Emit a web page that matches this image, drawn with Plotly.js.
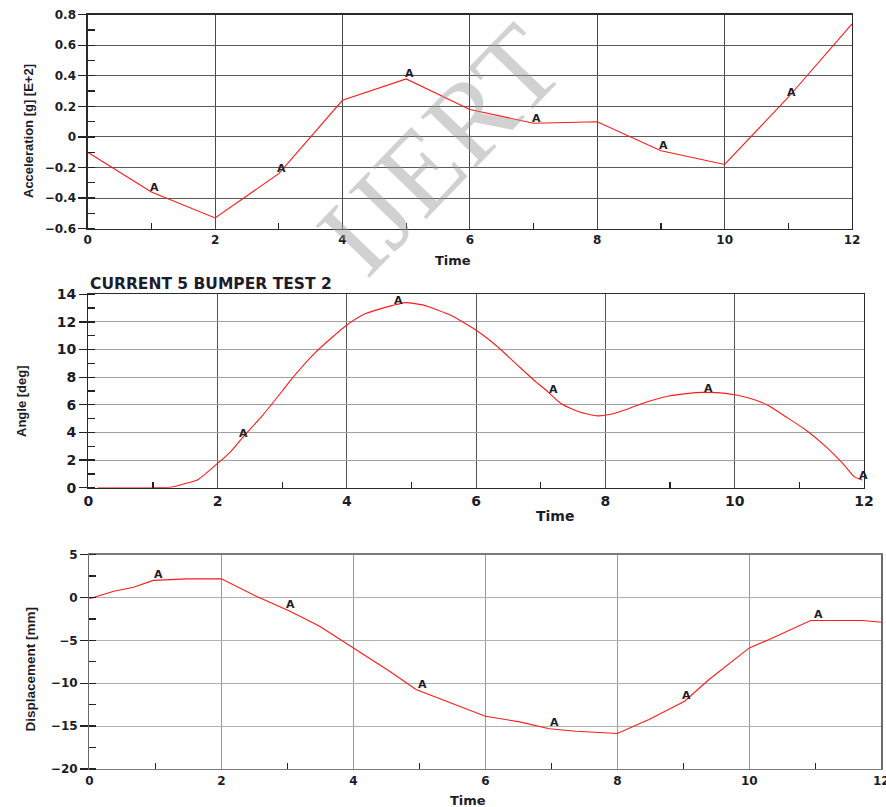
<!DOCTYPE html>
<html>
<head>
<meta charset="utf-8">
<script src="https://cdn.plot.ly/plotly-3.0.1.min.js"></script>
<style>html,body{margin:0;padding:0;background:#fff;}#chart{width:886px;height:807px;}</style>
</head>
<body>
<div id="chart"></div>
<script>
// ---------- data ----------
const accTime = [0, 1, 2, 3, 4, 5, 6, 7, 8, 9, 10, 11, 12];
const accel = [-0.10, -0.36, -0.53, -0.24, 0.24, 0.38, 0.18, 0.09, 0.10, -0.09, -0.18, 0.26, 0.74];
const accMarkX = [1, 3, 5, 7, 9, 11];
const accMarkY = [-0.36, -0.24, 0.38, 0.09, -0.09, 0.26];

const angTime = [0.15, 1.0, 1.3, 1.5, 1.7, 2.0, 2.2, 2.4, 2.7, 3.0, 3.15, 3.5, 3.8, 4.0, 4.3, 4.7, 4.9, 5.2, 5.38, 5.6, 6.0, 6.3, 6.61, 6.92, 7.08, 7.31, 7.59, 7.88, 8.06, 8.37, 8.57, 8.98, 9.29, 9.5, 9.86, 10.22, 10.5, 10.79, 11.1, 11.41, 11.67, 11.85, 11.97];
const angle = [0, 0, 0.05, 0.3, 0.6, 1.76, 2.6, 3.7, 5.26, 7.0, 7.9, 9.73, 11.0, 11.78, 12.62, 13.18, 13.4, 13.2, 12.9, 12.5, 11.4, 10.33, 9.0, 7.68, 7.07, 6.1, 5.5, 5.2, 5.3, 5.74, 6.1, 6.64, 6.83, 6.9, 6.83, 6.5, 6.0, 5.14, 4.18, 2.97, 1.76, 0.8, 0.55];
const angMarkX = [2.35, 4.75, 7.15, 9.55, 11.95];
const angMarkY = [3.6, 13.25, 6.8, 6.9, 0.6];

const dispTime = [0, 0.37, 0.67, 0.97, 1.48, 2.0, 2.53, 3.04, 3.49, 4.0, 4.55, 4.95, 5.25, 5.56, 6.0, 6.52, 6.97, 7.37, 8.0, 8.48, 9.02, 9.39, 10.0, 10.3, 10.93, 11.72, 12.0];
const disp = [-0.15, 0.74, 1.2, 2.0, 2.18, 2.18, 0.15, -1.6, -3.35, -5.87, -8.6, -10.73, -11.6, -12.5, -13.84, -14.5, -15.3, -15.6, -15.86, -14.23, -12.1, -9.56, -5.87, -4.9, -2.68, -2.68, -2.88];
const dispMarkX = [1, 3, 5, 7, 9, 11];
const dispMarkY = [2.0, -1.5, -10.9, -15.3, -12.1, -2.68];

const chartTitle = 'CURRENT 5 BUMPER TEST 2';
const yTitles = ['Acceleration [g] [E+2]', 'Angle [deg]', 'Displacement [mm]'];
const xTitle = 'Time';
const watermark = 'IJERT';

// ---------- layout helpers ----------
const W = 886, H = 807;
const px = v => v / W;
const py = v => 1 - v / H;
const lineColor = '#ff1a1a';
const textDark = '#1c1c2a';
const bold = {family: 'DejaVu Sans', weight: 'bold', color: textDark};

const traces = [
  {x: accTime, y: accel, xaxis: 'x', yaxis: 'y', mode: 'lines', line: {color: lineColor, width: 1.1}, hoverinfo: 'skip'},
  {x: angTime, y: angle, xaxis: 'x2', yaxis: 'y2', mode: 'lines', line: {color: lineColor, width: 1.1, shape: 'spline', smoothing: 0.6}, hoverinfo: 'skip'},
  {x: dispTime, y: disp, xaxis: 'x3', yaxis: 'y3', mode: 'lines', line: {color: lineColor, width: 1.1}, hoverinfo: 'skip'}
];

function xAx(dom, anchor, gridcolor, linecolor, fsize) {
  return {
    domain: dom, anchor: anchor, range: [0, 12], dtick: 2, tick0: 0,
    showgrid: true, gridcolor: gridcolor, gridwidth: 1, zeroline: false,
    showline: true, linecolor: linecolor, linewidth: 1.3, mirror: true,
    ticks: '', tickfont: Object.assign({size: fsize}, bold),
    ticklabeloverflow: 'allow',
    minor: {dtick: 1, tick0: 0, ticks: 'inside', ticklen: 6, tickcolor: '#222', tickwidth: 1.3, showgrid: false},
    fixedrange: true
  };
}
function yAx(dom, anchor, range, dtick, mdtick, gridcolor, linecolor, fsize) {
  return {
    domain: dom, anchor: anchor, range: range, dtick: dtick, tick0: range[0],
    showgrid: true, gridcolor: gridcolor, gridwidth: 1, zeroline: false,
    showline: true, linecolor: linecolor, linewidth: 1.3, mirror: true,
    ticks: 'outside', ticklen: 8, tickcolor: '#222', tickwidth: 1.3,
    tickfont: Object.assign({size: fsize}, bold),
    minor: {dtick: mdtick, tick0: range[0], ticks: 'inside', ticklen: 7, tickcolor: '#222', tickwidth: 1.3, showgrid: false},
    fixedrange: true
  };
}

const annotations = [];
function addMarks(xs, ys, xref, yref, yshift) {
  xs.forEach((xv, i) => annotations.push({
    x: xv, y: ys[i], xref: xref, yref: yref, text: 'A', showarrow: false,
    xshift: 3, yshift: yshift, font: {family: 'DejaVu Sans', size: 11, weight: 'bold', color: textDark}
  }));
}
addMarks(accMarkX, accMarkY, 'x', 'y', 5);
addMarks(angMarkX, angMarkY, 'x2', 'y2', 4);
addMarks(dispMarkX, dispMarkY, 'x3', 'y3', 6);

function paperText(text, x, y, size, angleDeg, family) {
  annotations.push({
    text: text, xref: 'paper', yref: 'paper', x: px(x), y: py(y),
    xanchor: 'center', yanchor: 'middle', showarrow: false, textangle: angleDeg || 0,
    font: {family: family || 'Liberation Sans', size: size, weight: 'bold', color: textDark}
  });
}
paperText(yTitles[0], 28, 131, 13, -90);
paperText(yTitles[1], 21, 401, 13, -90);
paperText(yTitles[2], 29.5, 669, 13.5, -90);
paperText(xTitle, 453, 260, 13, 0, 'DejaVu Sans');
paperText(xTitle, 555, 516, 14, 0, 'DejaVu Sans');
paperText(xTitle, 468, 800, 13, 0, 'DejaVu Sans');

annotations.push({
  text: chartTitle, xref: 'paper', yref: 'paper', x: px(88), y: py(295),
  xanchor: 'left', yanchor: 'bottom', showarrow: false,
  font: {family: 'DejaVu Sans', size: 15.5, weight: 'bold', color: textDark}
});

annotations.push({
  text: watermark, xref: 'paper', yref: 'paper', x: px(440), y: py(150),
  xanchor: 'center', yanchor: 'middle', showarrow: false, textangle: -46,
  opacity: 0.45,
  font: {family: 'Liberation Serif', size: 114, color: '#9a9a9a'}
});

const layout = {
  width: W, height: H,
  margin: {l: 0, r: 0, t: 0, b: 0},
  paper_bgcolor: '#ffffff', plot_bgcolor: '#ffffff',
  showlegend: false,
  xaxis: xAx([px(87.7), px(852)], 'y', '#4a4a4a', '#2a2a2a', 12),
  yaxis: yAx([py(228.7), py(14.7)], 'x', [-0.6, 0.8], 0.2, 0.1, '#5a5a5a', '#2a2a2a', 12),
  xaxis2: xAx([px(88.3), px(864)], 'y2', '#555555', '#2a2a2a', 14),
  yaxis2: yAx([py(487.7), py(294.3)], 'x2', [0, 14], 2, 1, '#a0a0a0', '#2a2a2a', 14),
  xaxis3: xAx([px(89.3), px(881.3)], 'y3', '#9a9a9a', '#7a7a7a', 12),
  yaxis3: yAx([py(769), py(554.7)], 'x3', [-20, 5], 5, 2.5, '#b0b0b0', '#6a6a6a', 12),
  annotations: annotations
};

Plotly.newPlot('chart', traces, layout, {staticPlot: true, displayModeBar: false});
</script>
</body>
</html>
